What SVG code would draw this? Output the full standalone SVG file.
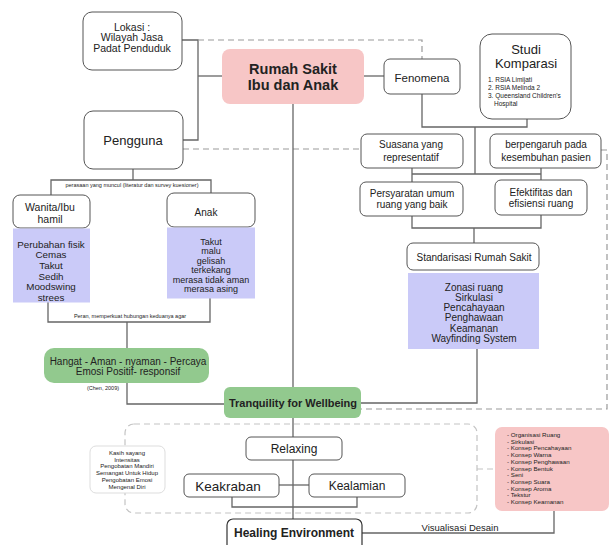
<svg xmlns="http://www.w3.org/2000/svg" width="609" height="545" viewBox="0 0 609 545">
<style>
text{font-family:"Liberation Sans",Arial,sans-serif;fill:#222;text-anchor:middle}
.b{fill:#fff;stroke:#555;stroke-width:1}
.pu{fill:#cacaf8;stroke:none}
.gr{fill:#92c98e;stroke:none}
.pk{fill:#f7c6c6;stroke:none}
.ln{fill:none;stroke:#666;stroke-width:1.3}
.ds{fill:none;stroke:#999;stroke-width:1.2;stroke-dasharray:6 4}
.dl{fill:none;stroke:#c4c4c4;stroke-width:1.2;stroke-dasharray:6 4}
.bold{font-weight:bold}
.l{text-anchor:start}
</style>
<rect width="609" height="545" fill="#fff"/>
<g id="connectors">
<polyline class="ln" points="182,40 198,40 198,140 183,140"/>
<line class="ln" x1="198" y1="76" x2="222" y2="76"/>
<polyline class="ds" points="198,40 422,40 422,59"/>
<line class="ln" x1="364" y1="76" x2="384" y2="76"/>
<polyline class="ln" points="422,94 422,127 527,127 527,119"/>
<line class="ln" x1="475" y1="127" x2="475" y2="174"/>
<polyline class="ln" points="412,168 412,182"/>
<polyline class="ln" points="541,168 541,180"/>
<line class="ln" x1="412" y1="174" x2="541" y2="174"/>
<polyline class="ln" points="412,216 412,228 541,228 541,215"/>
<line class="ln" x1="474" y1="228" x2="474" y2="243"/>
<polyline class="ln" points="477,349 477,403 361,403"/>
<line class="ds" x1="183" y1="149" x2="361" y2="149"/>
<polyline class="ds" points="601,150 607,150 607,409 361,409"/>
<line class="ln" x1="293" y1="104" x2="293" y2="387"/>
<polyline class="ln" points="133,169 133,180"/>
<polyline class="ln" points="51,195 51,180 211,180 211,193"/>
<polyline class="ln" points="48,302 48,322 210,322 210,298"/>
<line class="ln" x1="127" y1="322" x2="127" y2="348"/>
<polyline class="ln" points="127,383 127,404 224,404"/>
<line class="ln" x1="293" y1="418" x2="293" y2="519"/>
<line class="ln" x1="279" y1="485" x2="309" y2="485"/>
<polyline class="ln" points="232,497 232,507 357,507 357,497"/>
<polyline class="ln" points="362,533 554,533 554,511"/>
<line class="dl" x1="477" y1="469" x2="495" y2="469"/>
</g>
<g id="group-box">
<rect class="dl" x="125" y="424" width="352" height="89" rx="9"/>
</g>
<g id="lokasi">
<rect class="b" x="83" y="12" width="99" height="58" rx="9"/>
<text x="132" y="30.5" font-size="10.5">Lokasi :</text>
<text x="132" y="41" font-size="10.5">Wilayah Jasa</text>
<text x="132" y="51.5" font-size="10.5">Padat Penduduk</text>
</g>
<g id="pengguna">
<rect class="b" x="84" y="111" width="99" height="58" rx="9"/>
<text x="133" y="145" font-size="13">Pengguna</text>
</g>
<g id="rumah-sakit">
<rect class="pk" x="222" y="49" width="142" height="55" rx="8"/>
<text class="bold" x="293" y="74" font-size="14.5">Rumah Sakit</text>
<text class="bold" x="293" y="89.5" font-size="14.5">Ibu dan Anak</text>
</g>
<g id="fenomena">
<rect class="b" x="384" y="59" width="76" height="35" rx="6"/>
<text x="422" y="82" font-size="11.5">Fenomena</text>
</g>
<g id="studi">
<rect class="b" x="480" y="34" width="91" height="85" rx="12"/>
<text x="526" y="53.5" font-size="13">Studi</text>
<text x="526" y="67.5" font-size="13">Komparasi</text>
<text class="l" x="488" y="82.3" font-size="6.5">1. RSIA Limijati</text>
<text class="l" x="488" y="90.3" font-size="6.5">2. RSIA Melinda 2</text>
<text class="l" x="488" y="98.3" font-size="6.5">3. Queensland Children's</text>
<text class="l" x="494" y="106.3" font-size="6.5">Hospital</text>
</g>
<g id="suasana">
<rect class="b" x="361" y="134" width="102" height="34" rx="6"/>
<text x="411" y="147.5" font-size="10">Suasana yang</text>
<text x="411" y="160.5" font-size="10">representatif</text>
</g>
<g id="berpengaruh">
<rect class="b" x="490" y="134" width="111" height="34" rx="6"/>
<text x="546" y="147.5" font-size="10">berpengaruh pada</text>
<text x="546" y="160.5" font-size="10">kesembuhan pasien</text>
</g>
<g id="persyaratan">
<rect class="b" x="360" y="182" width="103" height="34" rx="6"/>
<text x="412" y="196.5" font-size="10">Persyaratan umum</text>
<text x="412" y="207.5" font-size="10">ruang yang baik</text>
</g>
<g id="efektifitas">
<rect class="b" x="495" y="180" width="92" height="35" rx="6"/>
<text x="541" y="195.5" font-size="10">Efektifitas dan</text>
<text x="541" y="206.5" font-size="10">efisiensi ruang</text>
</g>
<g id="standarisasi">
<rect class="b" x="407" y="243" width="132" height="27" rx="6"/>
<text x="474" y="260.5" font-size="10">Standarisasi Rumah Sakit</text>
<rect class="pu" x="408" y="273" width="131" height="76"/>
<text x="474" y="290.5" font-size="10">Zonasi ruang</text>
<text x="474" y="300.8" font-size="10">Sirkulasi</text>
<text x="474" y="311.1" font-size="10">Pencahayaan</text>
<text x="474" y="321.4" font-size="10">Penghawaan</text>
<text x="474" y="331.7" font-size="10">Keamanan</text>
<text x="474" y="342" font-size="10">Wayfinding System</text>
</g>
<g id="bracket-labels">
<text x="132" y="187" font-size="5.5">perasaan yang muncul (literatur dan survey kuesioner)</text>
<text x="130" y="318" font-size="5.5">Peran, memperkuat hubungan keduanya agar</text>
</g>
<g id="wanita">
<rect class="b" x="13" y="195" width="77" height="33" rx="7"/>
<text x="50" y="210.5" font-size="10.5">Wanita/Ibu</text>
<text x="50" y="222.5" font-size="10.5">hamil</text>
<rect class="pu" x="13" y="228.5" width="77" height="74"/>
<text x="51" y="247.5" font-size="9.8">Perubahan fisik</text>
<text x="51" y="258.2" font-size="9.8">Cemas</text>
<text x="51" y="268.9" font-size="9.8">Takut</text>
<text x="51" y="279.6" font-size="9.8">Sedih</text>
<text x="51" y="290.3" font-size="9.8">Moodswing</text>
<text x="51" y="301" font-size="9.8">strees</text>
</g>
<g id="anak">
<rect class="b" x="167" y="193" width="88" height="34" rx="7"/>
<text x="206" y="216" font-size="10">Anak</text>
<rect class="pu" x="167" y="227.5" width="88" height="71"/>
<text x="211" y="244.5" font-size="9">Takut</text>
<text x="211" y="254" font-size="9">malu</text>
<text x="211" y="263.5" font-size="9">gelisah</text>
<text x="211" y="273" font-size="9">terkekang</text>
<text x="211" y="282.5" font-size="9">merasa tidak aman</text>
<text x="211" y="292" font-size="9">merasa asing</text>
</g>
<g id="hangat">
<rect class="gr" x="44" y="348" width="165" height="35" rx="10"/>
<text x="128" y="364.5" font-size="10">Hangat - Aman - nyaman - Percaya</text>
<text x="128" y="375" font-size="10">Emosi Positif- responsif</text>
<text x="103" y="390" font-size="5.5">(Chen, 2009)</text>
</g>
<g id="tranquility">
<rect class="gr" x="224" y="387" width="137" height="31" rx="6"/>
<text class="bold" x="293" y="407" font-size="11">Tranquility for Wellbeing</text>
</g>
<g id="kasih">
<rect x="90" y="446" width="75" height="47" rx="6" fill="#fff" stroke="#ddd" stroke-width="1"/>
<text x="127" y="455" font-size="6">Kasih sayang</text>
<text x="127" y="461.7" font-size="6">Intensitas</text>
<text x="127" y="468.4" font-size="6">Pengobatan Mandiri</text>
<text x="127" y="475.1" font-size="6">Semangat Untuk Hidup</text>
<text x="127" y="481.8" font-size="6">Pengobatan Emosi</text>
<text x="127" y="488.5" font-size="6">Mengenal Diri</text>
</g>
<g id="relaxing">
<rect class="b" x="246" y="437" width="96" height="23" rx="5"/>
<text x="294" y="453.2" font-size="12">Relaxing</text>
</g>
<g id="keakraban">
<rect class="b" x="184" y="474" width="95" height="23" rx="5"/>
<text x="228" y="490.5" font-size="13.5">Keakraban</text>
</g>
<g id="kealamian">
<rect class="b" x="309" y="474" width="96" height="23" rx="5"/>
<text x="357" y="490" font-size="12">Kealamian</text>
</g>
<g id="healing">
<rect x="227" y="519" width="135" height="40" rx="6" fill="#fff" stroke="#333" stroke-width="1.2"/>
<text class="bold" x="294" y="537.2" font-size="12">Healing Environment</text>
</g>
<text x="460" y="531" font-size="9.5">Visualisasi Desain</text>
<g id="konsep">
<rect class="pk" x="495" y="427" width="114" height="84" rx="7"/>
<text class="l" x="507" y="437" font-size="6.2">- Organisasi Ruang</text>
<text class="l" x="507" y="443.7" font-size="6.2">- Sirkulasi</text>
<text class="l" x="507" y="450.4" font-size="6.2">- Konsep Pencahayaan</text>
<text class="l" x="507" y="457.1" font-size="6.2">- Konsep Warna</text>
<text class="l" x="507" y="463.8" font-size="6.2">- Konsep Penghawaan</text>
<text class="l" x="507" y="470.5" font-size="6.2">- Konsep Bentuk</text>
<text class="l" x="507" y="477.2" font-size="6.2">- Seni</text>
<text class="l" x="507" y="483.9" font-size="6.2">- Konsep Suara</text>
<text class="l" x="507" y="490.6" font-size="6.2">- Konsep Aroma</text>
<text class="l" x="507" y="497.3" font-size="6.2">- Tekstur</text>
<text class="l" x="507" y="504" font-size="6.2">- Konsep Keamanan</text>
</g>
</svg>
